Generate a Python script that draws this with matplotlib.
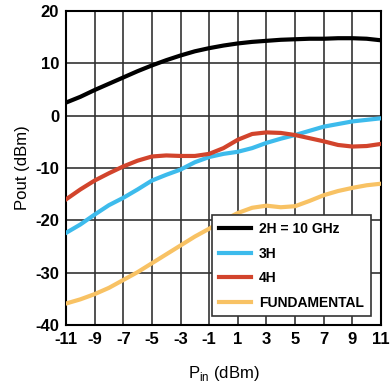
import matplotlib
matplotlib.use("Agg")
import matplotlib.pyplot as plt
import numpy as np

plt.rcParams['font.family'] = ['Liberation Sans', 'DejaVu Sans']
plt.rcParams['axes.unicode_minus'] = False

# input power (dBm), one reading per dB
pin = list(range(-11, 12))
xticks = list(range(-11, 12, 2))

# output power (dBm)
h2 = [2.5, 3.6, 4.9, 6.1, 7.3, 8.5, 9.6, 10.6, 11.5, 12.3, 12.9, 13.4,
      13.8, 14.1, 14.3, 14.5, 14.6, 14.7, 14.7, 14.8, 14.8, 14.7, 14.4]
h3 = [-22.4, -20.8, -18.9, -17.1, -15.7, -14.1, -12.4, -11.3, -10.3, -8.9, -7.9, -7.3,
      -6.9, -6.2, -5.2, -4.4, -3.7, -2.9, -2.1, -1.6, -1.1, -0.8, -0.5]
h4 = [-16.0, -14.1, -12.4, -11.0, -9.7, -8.6, -7.8, -7.6, -7.7, -7.7, -7.3, -6.2,
      -4.6, -3.5, -3.2, -3.3, -3.7, -4.3, -4.9, -5.6, -5.9, -5.8, -5.4]
fund = [-35.9, -35.1, -34.1, -32.9, -31.4, -29.9, -28.2, -26.5, -24.8, -23.1, -21.6, -20.0,
        -18.6, -17.6, -17.2, -17.5, -17.3, -16.3, -15.2, -14.4, -13.8, -13.3, -13.0]

fig = plt.figure(figsize=(3.9, 3.85), dpi=100)
ax = fig.add_axes([66 / 390, 60 / 385, 315 / 390, 314 / 385])

ax.plot(pin, h2, color='black', lw=3, label='2H = 10 GHz', zorder=3)
ax.plot(pin, h3, color='#3dbbec', lw=3, label='3H', zorder=3)
ax.plot(pin, h4, color='#d2442c', lw=3, label='4H', zorder=3)
ax.plot(pin, fund, color='#f8c264', lw=3, label='FUNDAMENTAL', zorder=3)

ax.set_xlim(-11, 11)
ax.set_ylim(-40, 20)
ax.set_xticks(xticks)
ax.set_yticks(np.arange(-40, 21, 10))
ax.grid(True, color='#333333', lw=1.2)
for s in ax.spines.values():
    s.set_linewidth(1.5)
ax.tick_params(axis='x', length=0, pad=5, labelsize=12)
ax.tick_params(axis='y', length=0, pad=5, labelsize=12)
for lbl in ax.get_xticklabels() + ax.get_yticklabels():
    lbl.set_fontweight('bold')

ax.set_xlabel('P$_\\mathregular{in}$ (dBm)', fontsize=12, labelpad=12)
ax.set_ylabel('Pout (dBm)', fontsize=12, labelpad=4)

leg = ax.legend(loc='lower right', fontsize=10, frameon=True, fancybox=False,
                handlelength=2.3, handletextpad=0.6, borderpad=0.5, labelspacing=0.75,
                bbox_to_anchor=(0.99, 0.005))
leg.get_frame().set_edgecolor('#333333')
leg.get_frame().set_linewidth(1.2)
leg.get_frame().set_alpha(1)
for t in leg.get_texts():
    t.set_fontweight('bold')

fig.savefig('out.png', dpi=100)
